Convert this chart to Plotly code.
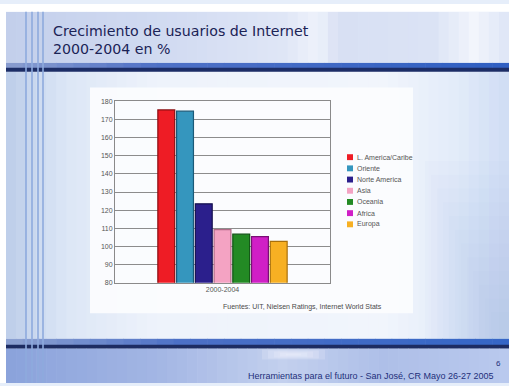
import plotly.graph_objects as go

# Internet user growth 2000-2004 (%), by region
period = ["2000-2004"]
regions = ["L. America/Caribe", "Oriente", "Norte America", "Asia", "Oceania", "Africa", "Europa"]
growth = [175.2, 174.5, 123.5, 109.3, 106.8, 105.5, 102.8]
colors = ["#ee1c25", "#3596be", "#2b1f8c", "#f4a3c3", "#238a24", "#d01fc6", "#f7b023"]
edges = ["#8a0c10", "#1b5a78", "#15104e", "#b06a86", "#115214", "#7a0f75", "#a8700c"]
y_ticks = list(range(80, 190, 10))

W, H = 509, 386


def px(x):
    return x / W


def py(y):
    return 1 - y / H


fig = go.Figure()
for name, val, col, edge in zip(regions, growth, colors, edges):
    fig.add_trace(go.Bar(
        x=period, y=[val], name=name,
        marker=dict(color=col, line=dict(color=edge, width=1.2)),
        showlegend=False,
    ))

shapes = []


def rect(x0, y0, x1, y1, color, opacity=1.0):
    shapes.append(dict(type="rect", xref="paper", yref="paper", layer="below",
                       x0=px(x0), x1=px(x1), y0=py(y1), y1=py(y0),
                       fillcolor=color, opacity=opacity, line=dict(width=0)))


def hex_rgb(c):
    c = c.lstrip("#")
    return [int(c[i:i + 2], 16) for i in (0, 2, 4)]


def mix(stops, t):
    for (p0, c0), (p1, c1) in zip(stops, stops[1:]):
        if p0 <= t <= p1:
            f = (t - p0) / (p1 - p0) if p1 > p0 else 0
            a, b = hex_rgb(c0), hex_rgb(c1)
            return "rgb(%d,%d,%d)" % tuple(round(a[k] + (b[k] - a[k]) * f) for k in range(3))
    return stops[-1][1]


def hgrad(x0, y0, x1, y1, stops, n=40):
    step = (x1 - x0) / n
    for i in range(n):
        rect(x0 + i * step, y0, x0 + (i + 1) * step + 0.6, y1, mix(stops, (i + 0.5) / n))


# slide body
hgrad(6, 69, W, 341, [(0, "#bccde9"), (0.12, "#dce6f6"), (0.3, "#eef3fb"),
                      (0.75, "#f1f5fc"), (0.9, "#e2ebf9"), (1, "#cfdcf4")], n=50)
# bluish haze towards the lower right corner
for i in range(12):
    rect(425 + i * 6, 160 + i * 14, W, 341, "#9fbbea", 0.045)
# title area
hgrad(6, 8, W, 60, [(0, "#c3cfeb"), (0.35, "#d3dcf2"), (0.55, "#dfe6f6"), (0.62, "#eef2fb"),
                    (0.66, "#d8e0f3"), (0.85, "#dbe3f5"), (0.93, "#f2f5fc"), (1, "#dde5f6")], n=50)
# top band
hgrad(6, 60, W, 66, [(0, "#8a9dcf"), (0.3, "#4f71c6"), (1, "#2f5fc2")], n=30)
rect(6, 65, W, 69, "#1c2d66")
# bottom band
hgrad(6, 341, W, 348, [(0, "#8ea2d2"), (0.35, "#4c70c6"), (1, "#3566c6")], n=30)
rect(6, 347, W, 351, "#1d2c62")
# footer area
hgrad(6, 351, W, H, [(0, "#8aa2db"), (0.3, "#a3b6e4"), (0.55, "#c3d0ee"),
                     (0.75, "#aebfe8"), (1, "#b9c9ee")], n=50)
for i in range(5):
    rect(262 + i * 6, 352 + i, 325 - i * 6, 362 - i, "#f4f7fd", 0.2)
# white frame around the slide
rect(0, 0, W, 8, "#ffffff")
rect(0, 0, 6, H, "#ffffff")
# thin vertical rules on the left
for xl in [26, 32, 38, 43]:
    shapes.append(dict(type="line", xref="paper", yref="paper", layer="below",
                       x0=px(xl), x1=px(xl), y0=0, y1=py(8),
                       line=dict(color="#8eaade", width=1.6)))
# chart panel
rect(90, 85, 413, 315, "#fbfcfe", 0.95)

annotations = []
# legend swatches and labels
for i, (name, col) in enumerate(zip(regions, colors)):
    yc = 156 + i * 11.4
    shapes.append(dict(type="rect", xref="paper", yref="paper",
                       x0=px(347), x1=px(353), y0=py(yc + 3), y1=py(yc - 3),
                       fillcolor=col, line=dict(width=0)))
    annotations.append(dict(x=px(355), y=py(yc), xref="paper", yref="paper",
                            text=name, showarrow=False, xanchor="left", yanchor="middle",
                            font=dict(family="Liberation Sans", size=7, color="#555555")))

annotations += [
    dict(x=px(51), y=py(37), xref="paper", yref="paper", xanchor="left", yanchor="middle",
         text="Crecimiento de usuarios de Internet<br>2000-2004 en %", showarrow=False, align="left",
         font=dict(family="DejaVu Sans", size=14.2, color="#1b2356")),
    dict(x=px(302), y=py(309), xref="paper", yref="paper", xanchor="center", yanchor="middle",
         text="Fuentes: UIT, Nielsen Ratings, Internet World Stats", showarrow=False,
         font=dict(family="Liberation Sans", size=7, color="#4a4a4a")),
    dict(x=px(498), y=py(366), xref="paper", yref="paper", xanchor="center", yanchor="middle",
         text="6", showarrow=False,
         font=dict(family="Liberation Sans", size=8, color="#1e2f7a")),
    dict(x=px(246), y=py(379), xref="paper", yref="paper", xanchor="left", yanchor="middle",
         text="Herramientas para el futuro - San José, CR Mayo 26-27 2005", showarrow=False,
         font=dict(family="Liberation Sans", size=9, color="#1e2f7a")),
]

fig.update_layout(
    width=W, height=H, autosize=False,
    margin=dict(l=0, r=0, t=0, b=0),
    paper_bgcolor="#e6eefa", plot_bgcolor="#ffffff",
    barmode="group", bargap=0.39, bargroupgap=0.1,
    shapes=shapes, annotations=annotations,
    xaxis=dict(domain=[px(115), px(330)], type="category",
               showline=True, mirror=True, linecolor="#8a8a8a", linewidth=1,
               showgrid=False, ticks="", tickfont=dict(family="Liberation Sans", size=7, color="#555555")),
    yaxis=dict(domain=[py(284), py(99)], range=[80, 180], tickvals=y_ticks,
               showline=True, mirror=True, linecolor="#8a8a8a", linewidth=1,
               showgrid=True, gridcolor="#8c8c8c", gridwidth=1, zeroline=False,
               ticks="", tickfont=dict(family="Liberation Sans", size=7, color="#555555")),
)

fig.write_html("out.html")
